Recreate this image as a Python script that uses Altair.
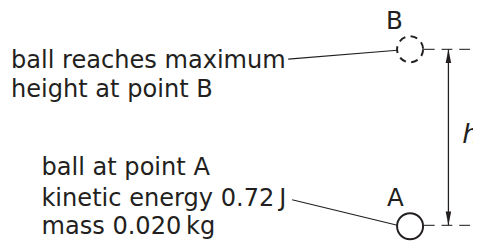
import altair as alt
import pandas as pd

# Diagram geometry (image pixel coordinates, y downward)
ball_names = ["A", "B"]
ball_x = [417, 417]
ball_y = [228, 48]
ball_dash = ["solid", "dashed"]

# point labels
pt_labels = ["A", "B"]
pt_label_x = [402, 401]
pt_label_y = [207, 27]

# text block lines
text_lines = ["ball reaches maximum", "height at point B",
              "ball at point A", "kinetic energy 0.72\u2009J", "mass 0.020\u2009kg"]
text_x = [11, 11, 42, 42, 42]
text_y = [67, 97, 176, 207, 236]

# leader lines
lead_x1 = [293, 297]
lead_y1 = [58, 201]
lead_x2 = [404, 404]
lead_y2 = [49, 227]

# dashed reference levels
level_x1 = [431, 431]
level_x2 = [481, 481]
level_y = [48, 227]

# height arrow
arrow_x = [456]
arrow_top = [48]
arrow_bottom = [227]
head_dir = ["up", "down"]
head_y = [55, 220]

h_label = ["h"]
h_x = [470]
h_y = [143]

W, H = 473, 234
xs = alt.Scale(domain=[8, 8 + W])
ys = alt.Scale(domain=[8 + H, 8])
INK = "#231f20"
FONT = "DejaVu Sans"
FS = 24.5

X = alt.X("x:Q", scale=xs, axis=None)
Y = alt.Y("y:Q", scale=ys, axis=None)

balls = pd.DataFrame({"name": ball_names, "x": ball_x, "y": ball_y, "dash": ball_dash})
ball_solid = alt.Chart(balls[balls.dash == "solid"]).mark_point(
    shape="circle", size=700, filled=False, stroke=INK, strokeWidth=2, opacity=1
).encode(x=X, y=Y)
ball_dashed = alt.Chart(balls[balls.dash == "dashed"]).mark_point(
    shape="circle", size=700, filled=False, stroke=INK, strokeWidth=2, opacity=1,
    strokeDash=[7, 5.5]
).encode(x=X, y=Y)

lbl = pd.DataFrame({"t": pt_labels, "x": pt_label_x, "y": pt_label_y})
pt_text = alt.Chart(lbl).mark_text(
    font=FONT, fontSize=25, color=INK, align="center", baseline="alphabetic"
).encode(x=X, y=Y, text="t:N")

txt = pd.DataFrame({"t": text_lines, "x": text_x, "y": text_y})
block = alt.Chart(txt).mark_text(
    font=FONT, fontSize=FS, color=INK, align="left", baseline="alphabetic"
).encode(x=X, y=Y, text="t:N")

lead = pd.DataFrame({"x": lead_x1, "y": lead_y1, "x2": lead_x2, "y2": lead_y2})
leaders = alt.Chart(lead).mark_rule(color=INK, strokeWidth=1.2).encode(
    x=X, y=Y, x2="x2:Q", y2="y2:Q")

lev = pd.DataFrame({"x": level_x1, "x2": level_x2, "y": level_y})
levels = alt.Chart(lev).mark_rule(color="#444444", strokeWidth=1.3, strokeDash=[11, 7]).encode(
    x=X, x2="x2:Q", y=Y)

arr = pd.DataFrame({"x": arrow_x, "y": arrow_top, "y2": arrow_bottom})
shaft = alt.Chart(arr).mark_rule(color=INK, strokeWidth=1.3).encode(
    x=X, y=Y, y2="y2:Q")

heads = pd.DataFrame({"x": arrow_x * 2, "y": head_y, "d": head_dir})
head_up = alt.Chart(heads[heads.d == "up"]).mark_point(
    shape="M0,-1L0.4,1L-0.4,1Z", size=196, filled=True, fill=INK, strokeWidth=0, opacity=1
).encode(x=X, y=Y)
head_down = alt.Chart(heads[heads.d == "down"]).mark_point(
    shape="M0,1L0.4,-1L-0.4,-1Z", size=196, filled=True, fill=INK, strokeWidth=0, opacity=1
).encode(x=X, y=Y)

hl = pd.DataFrame({"t": h_label, "x": h_x, "y": h_y})
h_text = alt.Chart(hl).mark_text(
    font=FONT, fontSize=27, fontStyle="italic", color=INK, align="left", baseline="alphabetic"
).encode(x=X, y=Y, text="t:N")

chart = alt.layer(
    levels, shaft, head_up, head_down, leaders, ball_solid, ball_dashed, pt_text, block, h_text
).properties(
    width=W, height=H, padding=0, autosize=alt.AutoSizeParams(type="none")
).configure(background="white", view=alt.ViewConfig(stroke=None))

chart.save("out.html", embed_options={"renderer": "svg", "actions": False})
